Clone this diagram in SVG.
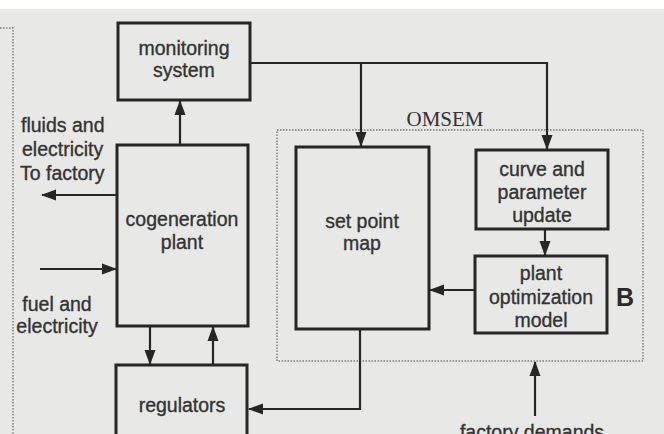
<svg xmlns="http://www.w3.org/2000/svg" width="664" height="434" viewBox="0 0 664 434">
  <style>
    .box { fill: none; stroke: #262626; stroke-width: 3; }
    .lbl { font-family: "Liberation Sans", Arial, sans-serif; font-size: 19.5px; fill: #333; stroke: #333; stroke-width: 0.35; text-anchor: middle; }
    .side { font-family: "Liberation Sans", Arial, sans-serif; font-size: 19.5px; fill: #333; stroke: #333; stroke-width: 0.35; }
    .wire { fill: none; stroke: #262626; stroke-width: 2.2; }
    .dots { fill: none; stroke: #7a7a7a; stroke-width: 1.3; stroke-dasharray: 1.5 1.5; }
  </style>
  <defs>
    <marker id="arrow" markerUnits="userSpaceOnUse" markerWidth="15" markerHeight="12" viewBox="0 0 15 12" refX="14" refY="6" orient="auto">
      <path d="M0,0.5 L15,6 L0,11.5 Z" fill="#262626"/>
    </marker>
  </defs>

  <!-- paper -->
  <rect x="0" y="0" width="664" height="434" fill="#e8e8e6"/>
  <rect x="0" y="0" width="664" height="9" fill="#ffffff"/>

  <!-- frame edge at the left -->
  <path class="dots" d="M0,28 H13 V434"/>

  <!-- OMSEM boundary -->
  <g id="omsem">
    <rect class="dots" x="277" y="130" width="366" height="231"/>
    <text x="445" y="126" font-family="'Liberation Serif', 'Times New Roman', serif" font-size="21" fill="#333" text-anchor="middle">OMSEM</text>
    <text x="625" y="306" font-family="'Liberation Sans', Arial, sans-serif" font-size="25" font-weight="bold" fill="#2a2a2a" text-anchor="middle">B</text>
  </g>

  <g id="monitoring">
    <rect class="box" x="118" y="23" width="132" height="77"/>
    <text class="lbl" x="184" y="55">monitoring</text>
    <text class="lbl" x="184" y="77">system</text>
  </g>

  <g id="cogeneration">
    <rect class="box" x="117" y="145" width="131" height="181"/>
    <text class="lbl" x="182" y="226">cogeneration</text>
    <text class="lbl" x="182" y="249">plant</text>
  </g>

  <g id="regulators">
    <rect class="box" x="116" y="365" width="131" height="80"/>
    <text class="lbl" x="182" y="412">regulators</text>
  </g>

  <g id="setpoint">
    <rect class="box" x="296" y="147" width="133" height="182"/>
    <text class="lbl" x="362" y="228">set point</text>
    <text class="lbl" x="362" y="250">map</text>
  </g>

  <g id="curve">
    <rect class="box" x="476" y="150" width="132" height="79"/>
    <text class="lbl" x="542" y="176">curve and</text>
    <text class="lbl" x="542" y="199">parameter</text>
    <text class="lbl" x="542" y="222">update</text>
  </g>

  <g id="optimization">
    <rect class="box" x="475" y="256" width="132" height="77"/>
    <text class="lbl" x="541" y="280">plant</text>
    <text class="lbl" x="541" y="304">optimization</text>
    <text class="lbl" x="541" y="327">model</text>
  </g>

  <!-- outside labels -->
  <g id="outputs">
    <text class="side" x="21" y="132">fluids and</text>
    <text class="side" x="22" y="156">electricity</text>
    <text class="side" x="20" y="180">To factory</text>
  </g>
  <g id="inputs">
    <text class="lbl" x="57" y="311">fuel and</text>
    <text class="lbl" x="57" y="333">electricity</text>
  </g>
  <g id="demands">
    <text class="lbl" x="532" y="439">factory demands</text>
  </g>

  <g id="connectors">
    <path class="wire" d="M180,145 V101" marker-end="url(#arrow)"/>
    <path class="wire" d="M250,63 H547 V149" marker-end="url(#arrow)"/>
    <path class="wire" d="M361,63 V146" marker-end="url(#arrow)"/>
    <path class="wire" d="M545,229 V255" marker-end="url(#arrow)"/>
    <path class="wire" d="M475,290 H430" marker-end="url(#arrow)"/>
    <path class="wire" d="M360,329 V409 H249" marker-end="url(#arrow)"/>
    <path class="wire" d="M150,326 V364" marker-end="url(#arrow)"/>
    <path class="wire" d="M213,365 V327" marker-end="url(#arrow)"/>
    <path class="wire" d="M117,195 H42" marker-end="url(#arrow)"/>
    <path class="wire" d="M40,269 H116" marker-end="url(#arrow)"/>
    <path class="wire" d="M535,416 V362" marker-end="url(#arrow)"/>
  </g>
</svg>
